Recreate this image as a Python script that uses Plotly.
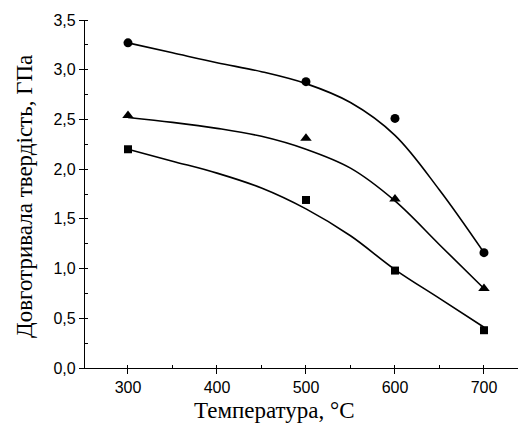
import plotly.graph_objects as go

# Measured points
temps = [300, 500, 600, 700]
hard_circle = [3.27, 2.88, 2.51, 1.16]
hard_triangle = [2.54, 2.31, 1.70, 0.80]
hard_square = [2.20, 1.69, 0.98, 0.38]

# Fitted curves
curve_t = [300, 350, 400, 450, 500, 550, 600, 650, 700]
curve_circle = [3.27, 3.17, 3.07, 2.98, 2.86, 2.67, 2.34, 1.79, 1.16]
curve_triangle = [2.52, 2.47, 2.41, 2.33, 2.20, 2.01, 1.68, 1.24, 0.80]
curve_square = [2.20, 2.08, 1.96, 1.81, 1.60, 1.33, 0.99, 0.70, 0.41]

x_ticks = [300, 400, 500, 600, 700]
y_ticks = [0, 0.5, 1.0, 1.5, 2.0, 2.5, 3.0, 3.5]

fig = go.Figure()
for cy in (curve_circle, curve_triangle, curve_square):
    fig.add_trace(go.Scatter(x=curve_t, y=cy, mode="lines", line=dict(color="black", width=1.6, shape="spline", smoothing=1),
                             showlegend=False, hoverinfo="skip"))
for vals, sym, sz in ((hard_circle, "circle", 9), (hard_triangle, "triangle-up", 10), (hard_square, "square", 8)):
    fig.add_trace(go.Scatter(x=temps, y=vals, mode="markers", marker=dict(color="black", symbol=sym, size=sz),
                             showlegend=False))

fig.update_layout(
    width=526, height=434,
    margin=dict(l=77, r=0, t=12, b=74, autoexpand=False),
    paper_bgcolor="white", plot_bgcolor="white",
    separators=", ",
    font=dict(family="Liberation Sans, Arial", color="black"),
    annotations=[
        dict(text="Температура, °C", xref="paper", yref="paper", x=0.423, y=-0.121,
             xanchor="center", yanchor="middle", showarrow=False,
             font=dict(family="Liberation Serif, Times New Roman", size=23, color="black")),
        dict(text="Довготривала твердість, ГПа", xref="paper", yref="paper", x=-0.136, y=0.494,
             xanchor="center", yanchor="middle", showarrow=False, textangle=-90,
             font=dict(family="Liberation Serif, Times New Roman", size=23, color="black")),
    ],
)
fig.update_xaxes(
    range=[251.7, 756.2], tickvals=x_ticks, showgrid=False, zeroline=False, automargin=False,
    showline=True, linecolor="black", linewidth=1.2,
    ticks="outside", ticklen=5, tickwidth=1.2, tickcolor="black",
    minor=dict(dtick=50, tick0=250, ticks="inside", ticklen=3, tickcolor="black", showgrid=False),
    tickfont=dict(size=16, family="Liberation Sans, Arial"),
)
fig.update_yaxes(
    range=[0, 3.5], tickvals=y_ticks, tickformat=".1f", showgrid=False, zeroline=False, automargin=False,
    showline=True, linecolor="black", linewidth=1.2,
    ticks="outside", ticklen=5, tickwidth=1.2, tickcolor="black",
    minor=dict(dtick=0.25, tick0=0, ticks="inside", ticklen=3, tickcolor="black", showgrid=False),
    tickfont=dict(size=16, family="Liberation Sans, Arial"),
)
fig.write_html("out.html")
